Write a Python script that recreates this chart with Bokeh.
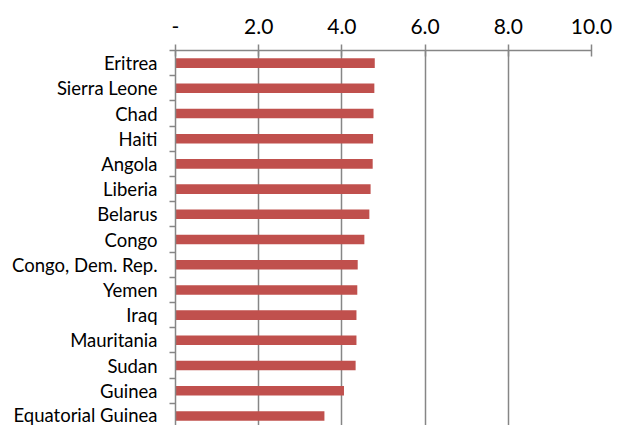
from bokeh.plotting import figure
from bokeh.models import Range1d, FixedTicker, CustomJSTickFormatter
from bokeh.embed import file_html
from bokeh.resources import INLINE

countries = ["Eritrea", "Sierra Leone", "Chad", "Haiti", "Angola", "Liberia", "Belarus",
             "Congo", "Congo, Dem. Rep.", "Yemen", "Iraq", "Mauritania", "Sudan",
             "Guinea", "Equatorial Guinea"]
values = [4.79, 4.78, 4.76, 4.75, 4.74, 4.69, 4.66, 4.54, 4.38, 4.37, 4.35, 4.35, 4.33, 4.05, 3.58]
x_ticks = [0, 2, 4, 6, 8, 10]

ypos = [i + 0.5 for i in range(len(countries))]
boundaries = list(range(len(countries) + 1))

GRAY = "#868686"
FONT = "Lato"

p = figure(width=619, height=425, output_backend="svg", toolbar_location=None,
           x_range=Range1d(0, 10), y_range=Range1d(len(countries) - 0.12, 0),
           x_axis_location="above",
           min_border_left=175, min_border_right=28, min_border_top=50, min_border_bottom=0)
p.outline_line_color = None
p.background_fill_color = "white"
p.border_fill_color = "white"

p.hbar(y=ypos, right=values, left=0, height=0.38, fill_color="#C0504D", line_color=None)

# top axis
xa = p.xaxis[0]
xa.ticker = FixedTicker(ticks=x_ticks, minor_ticks=[])
xa.formatter = CustomJSTickFormatter(code="return tick == 0 ? '-' : tick.toFixed(1);")
xa.axis_line_color = GRAY
xa.axis_line_width = 1.5
xa.major_tick_line_color = GRAY
xa.major_tick_line_width = 1.5
xa.major_tick_in = 6
xa.major_tick_out = 6
xa.major_label_standoff = 11
xa.major_label_text_font = FONT
xa.major_label_text_font_size = "21px"
xa.major_label_text_color = "black"

# left axis
ya = p.yaxis[0]
ya.ticker = FixedTicker(ticks=ypos, minor_ticks=boundaries)
ya.formatter = CustomJSTickFormatter(args=dict(names=countries),
                                     code="return names[Math.floor(tick)];")
ya.axis_line_color = GRAY
ya.axis_line_width = 1.5
ya.major_tick_line_color = None
ya.major_tick_in = 0
ya.major_tick_out = 6
ya.minor_tick_line_color = GRAY
ya.minor_tick_line_width = 1.5
ya.minor_tick_in = 0
ya.minor_tick_out = 6
ya.major_label_standoff = 12
ya.major_label_text_font = FONT
ya.major_label_text_font_size = "18.5px"
ya.major_label_text_color = "black"

p.xgrid.grid_line_color = GRAY
p.xgrid.grid_line_width = 1.5
p.ygrid.grid_line_color = None

open("out.html", "w").write(file_html(p, INLINE))
